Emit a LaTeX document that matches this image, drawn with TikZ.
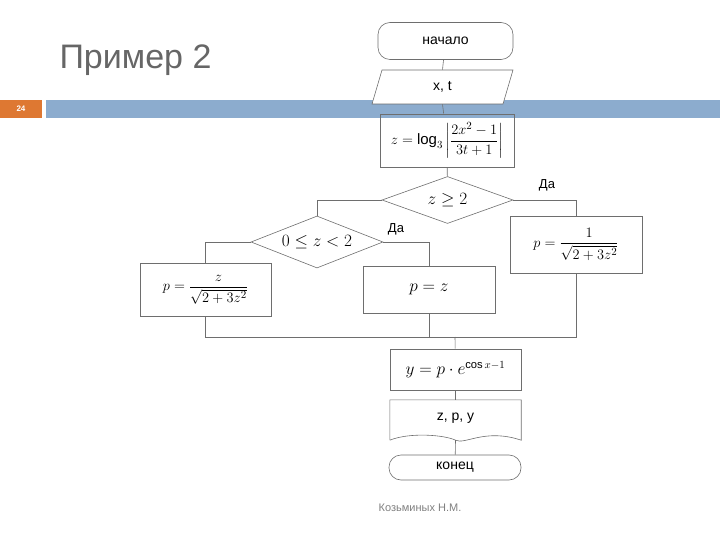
\documentclass[tikz,border=0pt]{standalone}
\usepackage{amsmath}
\usepackage{fontspec}
\setmainfont{Liberation Sans}
\usetikzlibrary{shapes.geometric}
\definecolor{ln}{RGB}{110,110,110}
\definecolor{bar}{RGB}{140,172,206}
\definecolor{org}{RGB}{222,120,50}
\begin{document}
\begin{tikzpicture}[x=1pt,y=-1pt,
  blk/.style={draw=ln,line width=0.6pt,minimum width=131pt,inner sep=1pt,font=\fontsize{14}{16}\selectfont},
  term/.style={blk,rounded corners=12pt},
  proc/.style={blk,rectangle},
  dec/.style={draw=ln,line width=0.6pt,diamond,aspect=2.8,inner sep=0pt,font=\fontsize{16}{18}\selectfont},
  wire/.style={draw=ln,line width=0.6pt},
  lab/.style={font=\fontsize{13}{15}\selectfont}]
\useasboundingbox (0,0) rectangle (720,540);
\node[font=\fontsize{34}{36}\selectfont,text=gray!80!black,anchor=west] (title) at (56,60) {Пример 2};
\fill[org] (0,100) rectangle (42,118);
\node[text=white,font=\fontsize{8}{9}\selectfont\bfseries] (num) at (21,109) {24};
\fill[bar] (46,100) rectangle (720,118);
\node[text=gray,font=\fontsize{11}{12}\selectfont] (auth) at (420,508) {Козьминых Н.М.};

\node[term,minimum width=135pt,minimum height=37pt] (start) at (445.5,41) {начало};
\node[blk,draw=none,minimum width=131pt,minimum height=34pt,inner sep=0pt] (in) at (442.5,87) {x, t};
\draw[wire,fill=white] (382,70) -- (513,70) -- (503,104) -- (372,104) -- cycle;
\node[font=\fontsize{14}{16}\selectfont] at (in) {x, t};
\draw[wire] (start) -- (in.north);
\node[proc,minimum width=134pt,minimum height=53pt,font=\fontsize{15}{17}\selectfont] (log) at (447,140.5) {$z=\log\nolimits_3\left|\dfrac{2x^2-1}{3t+1}\right|$};
\draw[wire] (in.south) -- (log);
\node[dec,minimum width=131pt,minimum height=47pt] (d1) at (447.5,200) {$z\ge 2$};
\draw[wire] (log) -- (d1);
\node[lab] (da1) at (547,185) {Да};
\node[proc,minimum width=132pt,minimum height=57pt,font=\fontsize{15}{17}\selectfont] (p1) at (576,244.5) {$p=\dfrac{1}{\sqrt{2+3z^2}}$};
\node[dec,minimum width=132pt,minimum height=52pt] (d2) at (317,242) {$0\le z<2$};
\node[lab] (da2) at (396,229) {Да};
\node[proc,minimum width=132pt,minimum height=47pt,font=\fontsize{16}{18}\selectfont] (p2) at (429,289.5) {$p=z$};
\node[proc,minimum width=131pt,minimum height=53pt,font=\fontsize{15}{17}\selectfont] (p3) at (205.5,289.5) {$p=\dfrac{z}{\sqrt{2+3z^2}}$};
\coordinate (j) at (455,337);
\draw[wire] (d1.east) -| (p1.north);
\draw[wire] (d1.west) -| (d2.north);
\draw[wire] (d2.east) -| (p2.north);
\draw[wire] (d2.west) -| (p3.north);
\draw[wire] (p3.south) -- (205.5,337) -- (576,337) -- (p1.south);
\draw[wire] (p2.south) -- (429,337);
\node[proc,minimum width=131pt,minimum height=41pt,font=\fontsize{16}{18}\selectfont] (y) at (455.5,369.5) {$y=p\cdot e^{\cos x-1}$};
\draw[wire] (j) -- (y);
\node[minimum width=131pt,minimum height=40pt,inner sep=0pt,font=\fontsize{14}{16}\selectfont] (out) at (455.5,420) {\raisebox{6pt}{z, p, y}};
\draw[wire] (out.south west) -- (out.north west) -- (out.north east) -- (out.south east)
  .. controls (485,428) and (465,445) .. (out.south) .. controls (445,435) and (410,432) .. (out.south west);
\draw[wire] (y) -- (out.north);
\node[term,minimum width=132pt,minimum height=25pt] (end) at (455,467.5) {конец};
\draw[wire] (out.south) -- (end);
\end{tikzpicture}
\end{document}
